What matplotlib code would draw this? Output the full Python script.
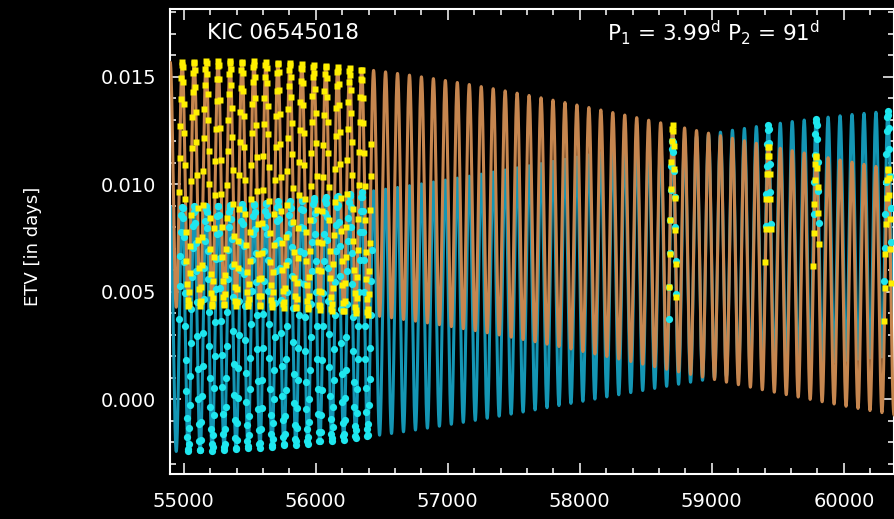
import numpy as np
import matplotlib
matplotlib.use("Agg")
import matplotlib.pyplot as plt
from matplotlib.ticker import MultipleLocator, FormatStrFormatter

plt.rcParams["font.family"] = ["DejaVu Sans"]
plt.rcParams["mathtext.fontset"] = "dejavusans"

# ---- orbital ephemerides ---------------------------------------------------
P1 = 3.99               # inner binary period [d]
P2 = 90.6               # outer orbit period [d]
T0_PRIM = 54965.0       # reference primary minimum (BJD-2400000)
T_MAX = 54988.5         # epoch of an ETV maximum of the outer orbit
ETV_SEMI_AMP = 0.0057   # semi-amplitude of the outer-orbit ETV [d]

# ---- slowly drifting ETV baselines of primary / secondary minima -----------
prim_epochs = np.array([55000, 56500, 57350, 58140, 58900, 59650, 60300])
prim_level = np.array([0.0100, 0.00955, 0.00875, 0.00776, 0.00677, 0.00584, 0.00506])
sec_epochs = np.array([55000, 56500, 57400, 58120, 58900, 59520, 59820, 60300])
sec_level = np.array([0.0033, 0.0040, 0.00488, 0.00581, 0.00675, 0.0069, 0.0073, 0.0078])

# ---- observing seasons: Kepler and the TESS sectors -------------------------
season_start = np.array([54965, 58672, 59405, 59768, 60304])
season_end = np.array([56424, 58733, 59449, 59812, 60358])

# ---- axes -------------------------------------------------------------------
XLIM = (54896, 60380)
YLIM = (-0.00347, 0.01815)
x_ticks = [55000, 56000, 57000, 58000, 59000, 60000]
y_ticks = [0.000, 0.005, 0.010, 0.015]

star_name = "KIC 06545018"
period_label = r"P$_1$ = 3.99$^\mathrm{d}$ P$_2$ = 91$^\mathrm{d}$"

C_PRIM_LINE = "#c6864f"
C_SEC_LINE = "#1496b4"
C_PRIM_PTS = "#fff000"
C_SEC_PTS = "#1ee6ee"


def baseline(epochs, level, t):
    coef = np.polyfit((epochs - 57500) / 1000.0, level, 3)
    return np.polyval(coef, (t - 57500) / 1000.0)


def etv(epochs, level, t):
    return (baseline(epochs, level, t)
            + ETV_SEMI_AMP * np.cos(2 * np.pi * (t - T_MAX) / P2))


def observed(t):
    return np.any((t[:, None] >= season_start) & (t[:, None] <= season_end), axis=1)


# model curves
t_model = np.arange(XLIM[0], XLIM[1], 0.5)
prim_model = etv(prim_epochs, prim_level, t_model)
sec_model = etv(sec_epochs, sec_level, t_model)

# eclipse times inside the observing seasons
cycles = np.arange(0, int((XLIM[1] - T0_PRIM) / P1) + 1)
t_prim = T0_PRIM + cycles * P1
t_sec = t_prim + P1 / 2
t_prim = t_prim[observed(t_prim)]
t_sec = t_sec[observed(t_sec)]
prim_etv = etv(prim_epochs, prim_level, t_prim)
sec_etv = etv(sec_epochs, sec_level, t_sec)

fig = plt.figure(figsize=(8.95, 5.19), dpi=100, facecolor="black")
ax = fig.add_axes([170 / 895, 45 / 519, 724 / 895, 465 / 519])
ax.set_facecolor("black")

ax.plot(t_model, sec_model, color=C_SEC_LINE, lw=2.2, zorder=2)
ax.plot(t_model, prim_model, color=C_PRIM_LINE, lw=2.2, zorder=3)

ax.plot(t_sec, sec_etv, ls="none", marker="o", ms=5.2, mec="none",
        color=C_SEC_PTS, zorder=4)
ax.plot(t_prim, prim_etv, ls="none", marker="s", ms=4.4, mec="none",
        color=C_PRIM_PTS, zorder=5)

ax.set_xlim(*XLIM)
ax.set_ylim(*YLIM)
ax.set_xticks(x_ticks)
ax.set_yticks(y_ticks)
ax.xaxis.set_minor_locator(MultipleLocator(200))
ax.yaxis.set_minor_locator(MultipleLocator(0.001))
ax.yaxis.set_major_formatter(FormatStrFormatter("%.3f"))

ax.tick_params(which="both", direction="in", top=True, right=True,
               colors="white", labelcolor="white", width=1.1)
ax.tick_params(which="major", length=8, labelsize=14)
ax.tick_params(axis="x", which="major", pad=13)
ax.tick_params(axis="y", which="major", pad=10)
ax.tick_params(which="minor", length=4.5)
for sp in ax.spines.values():
    sp.set_color("white")
    sp.set_linewidth(1.5)

ax.set_ylabel("ETV [in days]", color="white", fontsize=13,
              ha="center", va="center")
ax.yaxis.set_label_coords((33.5 - 170) / 724, 0.49)

ax.text((207 - 170) / 724, (474 - 33) / 465, star_name, transform=ax.transAxes,
        color="white", fontsize=15.5, ha="left", va="center")
ax.text((607 - 170) / 724, (474 - 33) / 465, period_label, transform=ax.transAxes,
        color="white", fontsize=15.5, ha="left", va="center")

fig.savefig("out.png", dpi=100, facecolor="black")
